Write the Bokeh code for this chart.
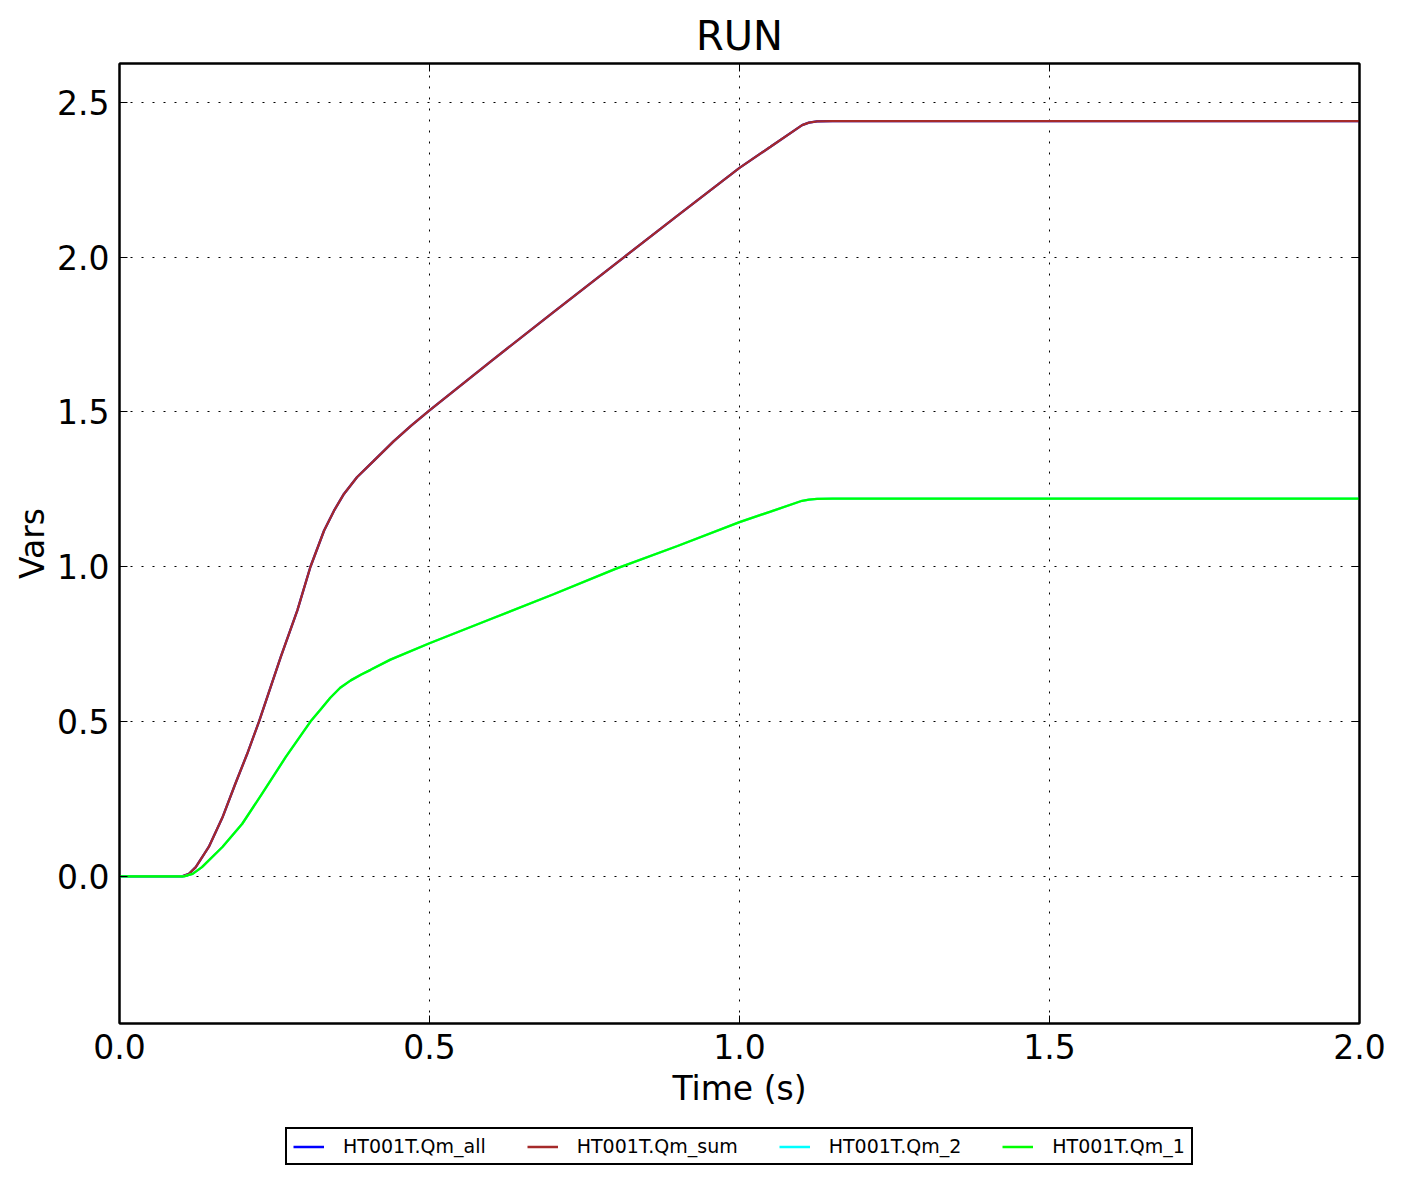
from bokeh.plotting import figure
from bokeh.layouts import column
from bokeh.models import (Range1d, LinearAxis, Legend, LegendItem, FixedTicker,
                          PrintfTickFormatter, CustomLabelingPolicy)
from bokeh.embed import file_html
from bokeh.resources import INLINE

# ---- data ----
time_total = [0.0, 0.05, 0.101, 0.112, 0.123, 0.144, 0.166, 0.187, 0.206, 0.225,
              0.26, 0.287, 0.308, 0.33, 0.346, 0.362, 0.383, 0.41, 0.442, 0.47,
              0.5, 0.6, 0.7, 0.814, 0.9, 1.0, 1.05, 1.101, 1.112, 1.125, 1.15,
              1.5, 2.0]
qm_all = [0.0, 0.0, 0.0, 0.008, 0.03, 0.095, 0.19, 0.30, 0.396, 0.5,
          0.708, 0.86, 1.0, 1.117, 1.181, 1.235, 1.289, 1.342, 1.405, 1.455,
          1.505, 1.665, 1.822, 2.0, 2.134, 2.288, 2.356, 2.426, 2.434, 2.438, 2.439,
          2.439, 2.439]
qm_sum = [0.0, 0.0, 0.0, 0.008, 0.03, 0.095, 0.19, 0.30, 0.396, 0.5,
          0.708, 0.86, 1.0, 1.117, 1.181, 1.235, 1.289, 1.342, 1.405, 1.455,
          1.505, 1.665, 1.822, 2.0, 2.134, 2.288, 2.356, 2.426, 2.434, 2.438, 2.439,
          2.439, 2.439]

time_part = [0.0, 0.05, 0.104, 0.118, 0.133, 0.166, 0.198, 0.23, 0.268, 0.308,
             0.324, 0.34, 0.356, 0.373, 0.39, 0.405, 0.437, 0.5, 0.6, 0.7,
             0.8, 0.9, 1.0, 1.05, 1.101, 1.112, 1.125, 1.15, 1.5, 2.0]
qm_2 = [0.0, 0.0, 0.0, 0.008, 0.03, 0.095, 0.17, 0.267, 0.385, 0.5,
        0.538, 0.577, 0.609, 0.633, 0.652, 0.667, 0.70, 0.753, 0.832, 0.911,
        0.993, 1.067, 1.144, 1.178, 1.213, 1.217, 1.219, 1.22, 1.22, 1.22]
qm_1 = [0.0, 0.0, 0.0, 0.008, 0.03, 0.095, 0.17, 0.267, 0.385, 0.5,
        0.538, 0.577, 0.609, 0.633, 0.652, 0.667, 0.70, 0.753, 0.832, 0.911,
        0.993, 1.067, 1.144, 1.178, 1.213, 1.217, 1.219, 1.22, 1.22, 1.22]

series_labels = ["HT001T.Qm_all", "HT001T.Qm_sum", "HT001T.Qm_2", "HT001T.Qm_1"]
series_colors = ["#0000ff", "#a52a2a", "#00ffff", "#00ff00"]

x_ticks = [0.0, 0.5, 1.0, 1.5, 2.0]
y_ticks = [0.0, 0.5, 1.0, 1.5, 2.0, 2.5]

FONT = "DejaVu Sans"
BORDER_L, BORDER_R = 119, 44

p = figure(width=1403, height=1118, output_backend="svg", toolbar_location=None,
           x_range=Range1d(0, 2), y_range=Range1d(-0.475, 2.625),
           min_border_left=BORDER_L, min_border_right=BORDER_R, min_border_top=63,
           min_border_bottom=95, title="RUN")

p.title.text_font = FONT
p.title.text_font_size = "40px"
p.title.text_font_style = "normal"
p.title.align = "center"
p.title.text_color = "black"
p.title.standoff = 2

p.outline_line_color = "black"
p.outline_line_width = 2
p.outline_line_alpha = 1.0
p.background_fill_color = "white"
p.border_fill_color = "white"

hide_labels = CustomLabelingPolicy(
    code="const all = [...indices]; for (const i of all) indices.unset(i); return indices")

def style_axis(ax, show_labels=True):
    ax.major_tick_in = 8
    ax.major_tick_out = 0
    ax.minor_tick_in = 0
    ax.minor_tick_out = 0
    ax.major_tick_line_color = "black"
    ax.major_tick_line_width = 1
    ax.axis_line_color = "black"
    ax.axis_line_width = 2
    ax.major_label_text_font = FONT
    ax.major_label_text_color = "black"
    ax.axis_label_text_font = FONT
    ax.axis_label_text_font_style = "normal"
    ax.axis_label_text_color = "black"
    if show_labels:
        ax.major_label_text_font_size = "33px"
        ax.axis_label_text_font_size = "33px"
    else:
        ax.major_label_text_font_size = "1px"
        ax.major_label_policy = hide_labels
        ax.major_label_standoff = 0

xt = FixedTicker(ticks=x_ticks)
yt = FixedTicker(ticks=y_ticks)
fmt = PrintfTickFormatter(format="%.1f")

p.xaxis.ticker = xt
p.yaxis.ticker = yt
p.xaxis.formatter = fmt
p.yaxis.formatter = fmt
p.xaxis.axis_label = "Time (s)"
p.yaxis.axis_label = "Vars"
for ax in p.xaxis + p.yaxis:
    style_axis(ax)
p.xaxis.major_label_standoff = 10
p.yaxis.major_label_standoff = 10
p.xaxis.axis_label_standoff = 7
p.yaxis.axis_label_standoff = 2

top_ax = LinearAxis(ticker=FixedTicker(ticks=x_ticks), formatter=fmt)
right_ax = LinearAxis(ticker=FixedTicker(ticks=y_ticks), formatter=fmt)
style_axis(top_ax, False)
style_axis(right_ax, False)
p.add_layout(top_ax, "above")
p.add_layout(right_ax, "right")

p.xgrid.ticker = xt
p.ygrid.ticker = yt
for g in (p.xgrid, p.ygrid):
    g.grid_line_color = "black"
    g.grid_line_width = 1
    g.grid_line_dash = "2 9"
    g.grid_line_alpha = 1.0

LW = 2.3
p.line(time_total, qm_all, line_color=series_colors[0], line_width=LW)
p.line(time_total, qm_sum, line_color=series_colors[1], line_width=LW)
p.line(time_part, qm_2, line_color=series_colors[2], line_width=LW)
p.line(time_part, qm_1, line_color=series_colors[3], line_width=LW)

# ---- legend strip below the chart (frame aligned with the chart's frame) ----
lg = figure(width=1403, height=66, output_backend="svg", toolbar_location=None,
            x_range=Range1d(10, 11), y_range=Range1d(10, 11),
            x_axis_type=None, y_axis_type=None,
            min_border_left=BORDER_L, min_border_right=BORDER_R,
            min_border_top=0, min_border_bottom=0)
lg.outline_line_color = None
lg.xgrid.visible = False
lg.ygrid.visible = False
lg.background_fill_color = "white"
lg.border_fill_color = "white"

# legend keys: same series, out of this strip's view
keys = [
    lg.line(time_total, qm_all, line_color=series_colors[0], line_width=2.5),
    lg.line(time_total, qm_sum, line_color=series_colors[1], line_width=2.5),
    lg.line(time_part, qm_2, line_color=series_colors[2], line_width=2.5),
    lg.line(time_part, qm_1, line_color=series_colors[3], line_width=2.5),
]

legend = Legend(items=[LegendItem(label=l, renderers=[rr]) for l, rr in zip(series_labels, keys)],
                orientation="horizontal", location=(166, 19),
                border_line_color="black", border_line_width=2, border_line_alpha=1.0,
                background_fill_color="white", background_fill_alpha=1.0,
                label_text_font=FONT, label_text_font_size="19px", label_text_color="black",
                glyph_width=31, glyph_height=17, label_height=17,
                label_standoff=19, spacing=41, padding=6, margin=0)
lg.add_layout(legend, "center")

layout = column(p, lg, spacing=0)
open("out.html", "w").write(file_html(layout, INLINE))
